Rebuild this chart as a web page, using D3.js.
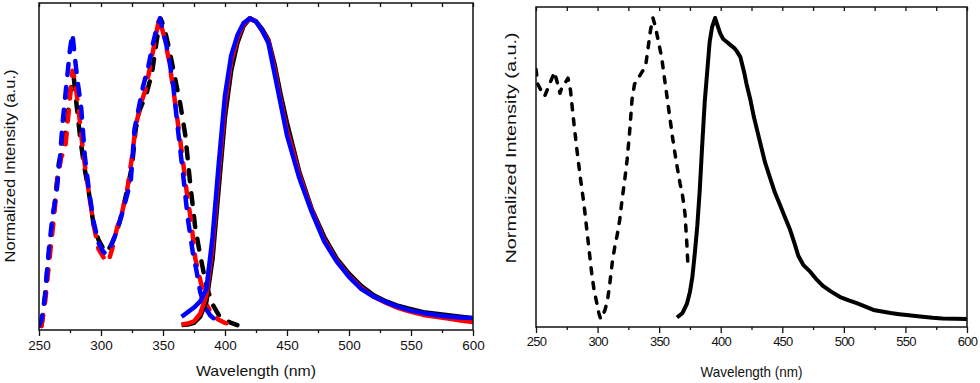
<!DOCTYPE html>
<html>
<head>
<meta charset="utf-8">
<script src="https://cdn.jsdelivr.net/npm/d3@7"></script>
<style>
  body { margin: 0; background: #fff; }
  svg { display: block; }
</style>
</head>
<body>
<script>
// ---- data ----
const tickMajor = [250, 300, 350, 400, 450, 500, 550, 600];
const tickMinor = [275, 325, 375, 425, 475, 525, 575];

// left panel, excitation (dashed)
const exBlackNm = [252,254,257,260,263,266,269,272,275,278,280,283,286,290,294,298,302,305,309,313,317,321,325,328,331,334,337,341,345,348,351,355,360,364,368,372,376,380,385,390,395,400,405,410];
const exBlack   = [0,0.06,0.2,0.3,0.41,0.53,0.58,0.64,0.76,0.81,0.73,0.62,0.53,0.44,0.33,0.28,0.25,0.24,0.27,0.31,0.37,0.44,0.52,0.64,0.7,0.73,0.76,0.82,0.93,1.0,0.97,0.9,0.8,0.72,0.62,0.46,0.32,0.23,0.13,0.07,0.035,0.02,0.01,0.003];
const exRedNm = [252,255,258,262,265,268,271,274,277,279,282,286,290,294,298,301,304,306,309,313,317,321,325,328,332,336,340,344,347,351,355,360,365,369,373,376,380,385,390,395,400,405];
const exRed   = [0,0.08,0.2,0.35,0.48,0.55,0.57,0.7,0.83,0.8,0.7,0.55,0.44,0.33,0.25,0.23,0.21,0.21,0.25,0.32,0.37,0.44,0.55,0.65,0.72,0.77,0.85,0.94,1.0,0.94,0.86,0.72,0.57,0.44,0.33,0.22,0.15,0.07,0.035,0.02,0.01,0.005];
const exBlueNm = [250,252,255,258,261,264,267,269,272,275,277,279,281,284,287,290,294,298,302,305,308,312,316,320,324,327,331,334,338,342,345,347.5,350,354,358,362,366,370,374,377,380,384,388,392,395];
const exBlue   = [0,0.02,0.1,0.25,0.36,0.43,0.55,0.66,0.78,0.9,0.95,0.87,0.8,0.71,0.55,0.45,0.34,0.27,0.24,0.235,0.26,0.3,0.35,0.41,0.47,0.64,0.72,0.78,0.84,0.92,0.97,1.0,0.96,0.89,0.79,0.64,0.5,0.35,0.24,0.18,0.11,0.06,0.035,0.02,0.015];

// left panel, emission (solid)
const emNm = [365,370,375,380,385,390,395,400,405,410,415,420,425,430,435,440,445,450,455,460,470,480,490,500,510,520,530,540,550,560,570,580,590,600];
const emBlack = [0.003,0.005,0.01,0.03,0.08,0.22,0.45,0.68,0.83,0.92,0.975,1.0,0.99,0.965,0.93,0.85,0.75,0.66,0.58,0.5,0.38,0.29,0.22,0.17,0.13,0.1,0.08,0.065,0.055,0.045,0.04,0.035,0.03,0.025];
const emRed   = [0.005,0.008,0.015,0.04,0.1,0.26,0.5,0.72,0.86,0.935,0.98,1.0,0.99,0.96,0.925,0.835,0.73,0.635,0.565,0.49,0.375,0.28,0.213,0.163,0.123,0.095,0.075,0.058,0.046,0.036,0.03,0.024,0.018,0.013];
const emBlue  = [0.03,0.045,0.06,0.08,0.12,0.29,0.53,0.75,0.88,0.945,0.985,1.0,0.99,0.96,0.92,0.82,0.72,0.62,0.55,0.48,0.37,0.275,0.21,0.16,0.12,0.095,0.077,0.062,0.05,0.042,0.036,0.031,0.028,0.026];

// right panel
const exRightNm = [250,251.5,254,257,259,261,263,265,267,269.5,271,273,276,278,280,283,286,289,292,295,297,299,301,302.5,304,306,308,310,312,314,316,318,320,322,324,326,328,330,333,336,339,341,343,345,347,349,352,355,358,361,364,367,369,371,372.5,373.5];
const exRight   = [0.83,0.78,0.76,0.74,0.76,0.78,0.8,0.82,0.79,0.75,0.77,0.78,0.8,0.76,0.68,0.57,0.47,0.38,0.27,0.16,0.1,0.06,0.02,0,0.01,0.03,0.06,0.12,0.19,0.24,0.28,0.33,0.4,0.46,0.53,0.62,0.73,0.78,0.8,0.82,0.84,0.9,0.96,1.0,0.97,0.93,0.87,0.78,0.69,0.6,0.52,0.45,0.41,0.35,0.25,0.17];
const emRightNm = [364.5,366,369,372.5,375,377,379,381,383,385,387,389,391,393,395.5,397,399.5,402,405,408,411,413,416,419,421,424,427,430,433,436,440,444,448,452,456,460,463,467,472,477,483,490,497,504,511,518,524,531,538,545,551,560,572,580,590,600];
const emRight   = [0.005,0.01,0.02,0.05,0.09,0.14,0.22,0.31,0.43,0.58,0.72,0.82,0.92,0.97,1.0,0.98,0.95,0.93,0.92,0.91,0.9,0.89,0.87,0.82,0.78,0.73,0.67,0.62,0.57,0.52,0.47,0.42,0.38,0.34,0.3,0.25,0.21,0.18,0.16,0.135,0.11,0.09,0.073,0.062,0.052,0.04,0.03,0.025,0.02,0.016,0.013,0.009,0.004,0.002,0.001,0];

const width = 980;
const height = 383;

const svg = d3.select("body")
  .append("svg")
  .attr("width", width)
  .attr("height", height);

function zipSeries(nm, vals) {
  return nm.map((d, i) => [d, vals[i]]);
}

function drawPanel(p) {
  const x = d3.scaleLinear().domain([250, 600]).range([p.left, p.right]);
  const y = d3.scaleLinear().domain(p.yDomain).range([p.bottom, p.top]);

  const clipId = "clip-" + p.id;
  svg.append("clipPath").attr("id", clipId)
    .append("rect")
    .attr("x", p.left).attr("y", p.top)
    .attr("width", p.right - p.left).attr("height", p.bottom - p.top);

  const line = d3.line()
    .x(d => x(d[0]))
    .y(d => y(d[1]));

  const g = svg.append("g").attr("clip-path", `url(#${clipId})`);
  p.series.forEach(s => {
    g.append("path")
      .datum(zipSeries(s.nm, s.vals))
      .attr("d", line)
      .attr("fill", "none")
      .attr("stroke", s.color)
      .attr("stroke-width", s.width)
      .attr("stroke-linejoin", "round")
      .attr("stroke-linecap", s.dash ? "round" : "butt")
      .attr("stroke-dasharray", s.dash || null);
  });

  // frame
  svg.append("rect")
    .attr("x", p.left).attr("y", p.top)
    .attr("width", p.right - p.left).attr("height", p.bottom - p.top)
    .attr("fill", "none")
    .attr("stroke", "#111")
    .attr("stroke-width", 1.5);

  // bottom axis, major ticks + labels
  const axMajor = svg.append("g")
    .attr("transform", `translate(0,${p.bottom})`)
    .call(d3.axisBottom(x).tickValues(tickMajor).tickSize(6).tickPadding(4).tickFormat(d3.format("d")));
  const axMinor = svg.append("g")
    .attr("transform", `translate(0,${p.bottom})`)
    .call(d3.axisBottom(x).tickValues(tickMinor).tickSize(3).tickFormat(""));
  const axTop = svg.append("g")
    .attr("transform", `translate(0,${p.top})`)
    .call(d3.axisTop(x).tickValues(tickMajor.concat(tickMinor)).tickSize(-4).tickFormat(""));

  [axMajor, axMinor, axTop].forEach(a => {
    a.select(".domain").remove();
    a.selectAll("line").attr("stroke", "#111").attr("stroke-width", 1.3);
  });
  axMajor.selectAll("text")
    .attr("fill", "#111")
    .style("font-family", "Liberation Sans, Arial, sans-serif")
    .style("font-size", p.tickFont + "px")
    .style("letter-spacing", p.tickSpacing + "px");

  svg.append("text")
    .attr("x", (p.left + p.right) / 2)
    .attr("y", p.xTitleY)
    .attr("text-anchor", "middle")
    .attr("textLength", p.xTitleLen)
    .attr("lengthAdjust", "spacingAndGlyphs")
    .style("font-family", "Liberation Sans, Arial, sans-serif")
    .style("font-size", "15px")
    .attr("fill", "#111")
    .text("Wavelength (nm)");

  svg.append("text")
    .attr("transform", `translate(${p.yTitleX},${p.yTitleY}) rotate(-90)`)
    .attr("text-anchor", "middle")
    .attr("textLength", p.yTitleLen)
    .attr("lengthAdjust", "spacingAndGlyphs")
    .style("font-family", "Liberation Sans, Arial, sans-serif")
    .style("font-size", "15px")
    .attr("fill", "#111")
    .text("Normalized Intensity (a.u.)");
}

drawPanel({
  id: "left",
  left: 39, right: 473, top: 3, bottom: 330,
  yDomain: [-0.013, 1.05],
  tickFont: 13.5, tickSpacing: 0,
  xTitleY: 376, xTitleLen: 120,
  yTitleX: 15, yTitleY: 166, yTitleLen: 193,
  series: [
    { nm: exBlackNm, vals: exBlack, color: "#000", width: 4.5, dash: "11,12" },
    { nm: exRedNm, vals: exRed, color: "#ff0000", width: 4.5, dash: "11,12" },
    { nm: exBlueNm, vals: exBlue, color: "#0000ff", width: 4.5, dash: "11,12" },
    { nm: emNm, vals: emBlack, color: "#000", width: 4.5 },
    { nm: emNm, vals: emRed, color: "#ff0000", width: 4.5 },
    { nm: emNm, vals: emBlue, color: "#0000ff", width: 4.5 }
  ]
});

drawPanel({
  id: "right",
  left: 536, right: 967, top: 7, bottom: 327,
  yDomain: [-0.0266, 1.0365],
  tickFont: 13, tickSpacing: -0.8,
  xTitleY: 377, xTitleLen: 102,
  yTitleX: 516, yTitleY: 148, yTitleLen: 231,
  series: [
    { nm: exRightNm, vals: exRight, color: "#000", width: 3.5, dash: "6,9" },
    { nm: emRightNm, vals: emRight, color: "#000", width: 4 }
  ]
});
</script>
</body>
</html>
